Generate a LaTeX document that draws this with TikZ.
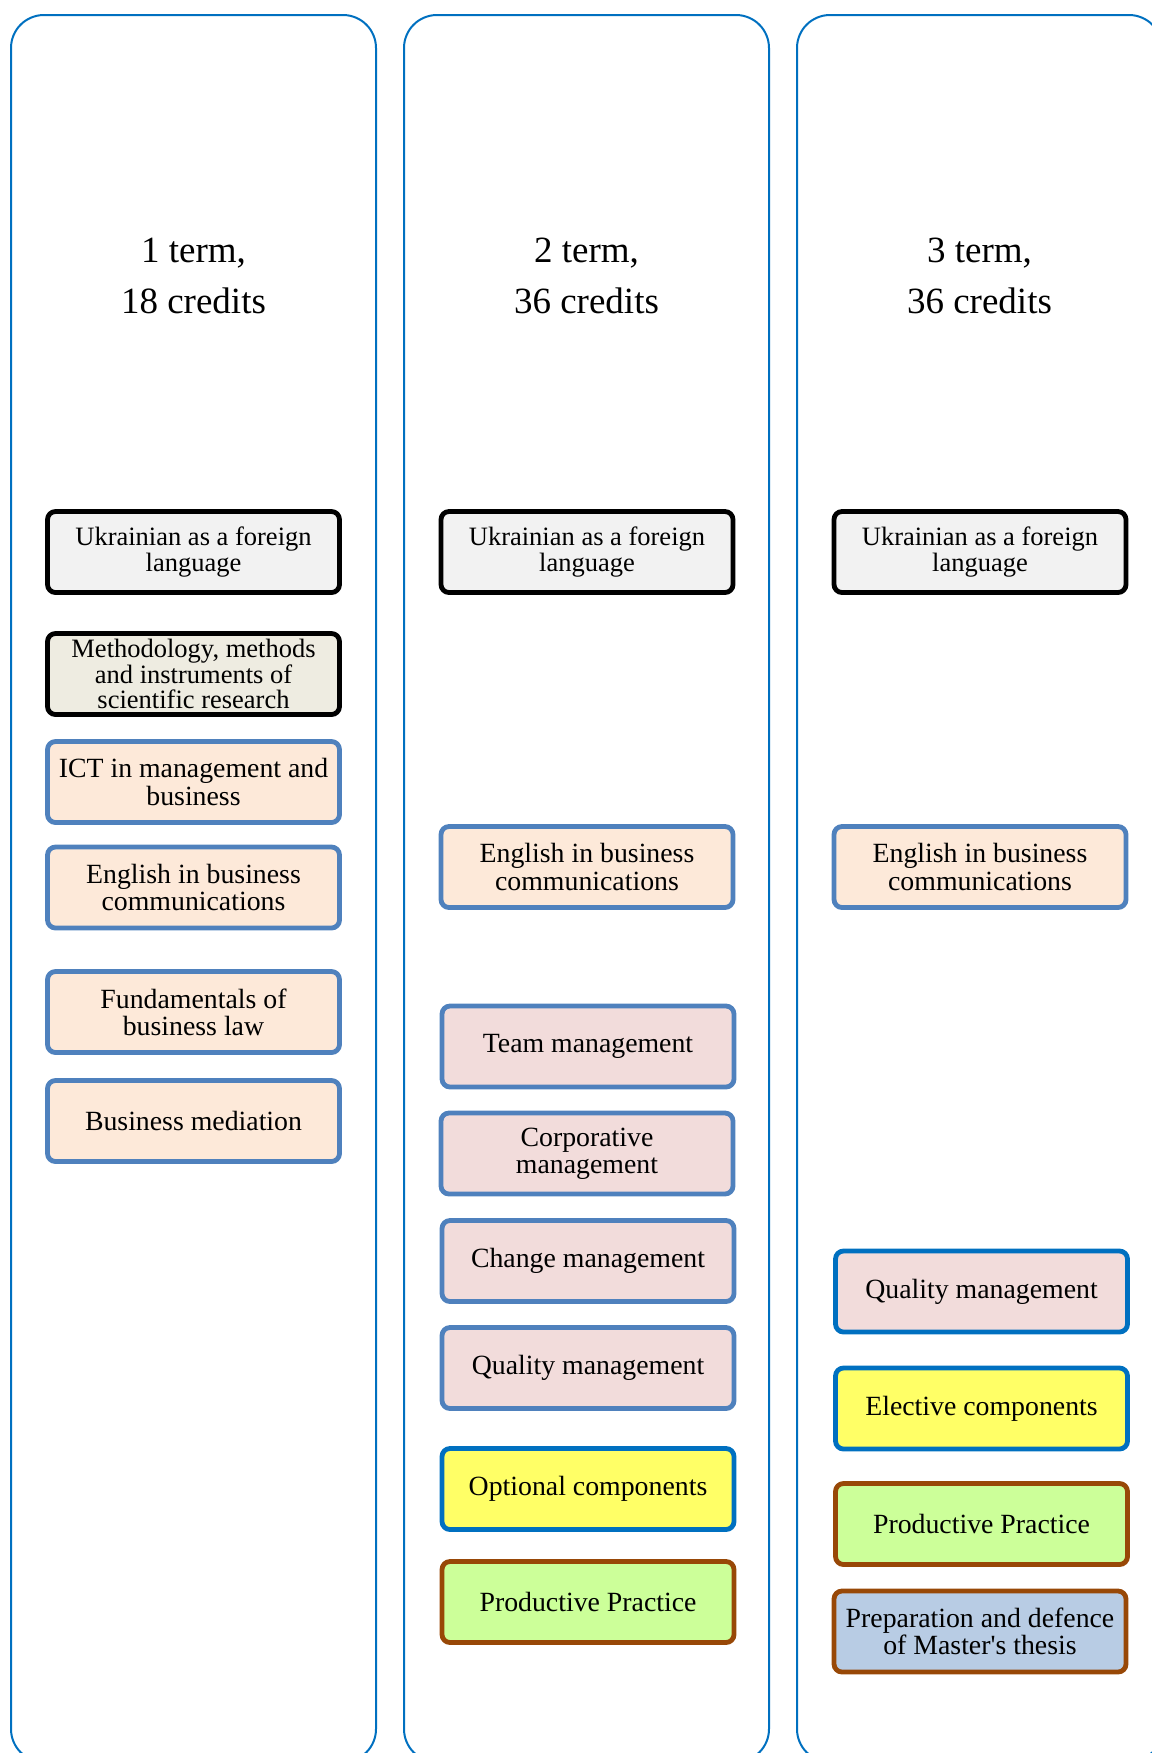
\documentclass[tikz,border=0pt]{standalone}
\usepackage{fontspec}
\setmainfont{Liberation Serif}
\newfontfamily\plainserif{Liberation Serif}
\definecolor{colblue}{HTML}{0070C0}
\definecolor{steel}{HTML}{4F81BD}
\definecolor{brownb}{HTML}{984807}
\definecolor{greyf}{HTML}{F2F2F2}
\definecolor{beigef}{HTML}{EEECE1}
\definecolor{peachf}{HTML}{FDE9D9}
\definecolor{pinkf}{HTML}{F2DCDB}
\definecolor{yellowf}{HTML}{FFFF66}
\definecolor{greenf}{HTML}{CCFF99}
\definecolor{bluef}{HTML}{B8CCE4}
\tikzset{
  column/.style={draw=colblue, line width=1pt, rounded corners=16.5pt},
  coursebox/.style={rounded corners=4pt, line width=2.4pt, minimum width=146pt, minimum height=40.5pt,
    inner sep=0pt, align=center, font=\fontsize{13.9}{13.6}\selectfont},
  blackbox/.style={coursebox, draw=black, font=\fontsize{13.25}{12.6}\selectfont},
  steelbox/.style={coursebox, draw=steel},
  bluebox/.style={coursebox, draw=colblue},
  brownbox/.style={coursebox, draw=brownb},
  title/.style={align=center, font=\fontsize{18.5}{25.5}\selectfont}
}
\begin{document}
\begin{tikzpicture}[x=0.5pt, y=-0.5pt]
\useasboundingbox (0,0) rectangle (1152,1753);
\clip (0,0) rectangle (1152,1753);
% columns
\draw[column] (11,15) rectangle (376,1762);
\draw[column] (404,15) rectangle (769,1762);
\draw[column] (797,15) rectangle (1162,1762);
% titles
\node[title] (t1) at (193.5,276) {1 term,\\18 credits};
\node[title] (t2) at (586.5,276) {2 term,\\36 credits};
\node[title] (t3) at (979.5,276) {3 term,\\36 credits};
% column 1
\node[blackbox, fill=greyf] (u1) at (193.5,552) {Ukrainian as a foreign\\language};
\node[blackbox, fill=beigef] (m1) at (193.5,674) {Methodology, methods\\and instruments of\\scientific research};
\node[steelbox, fill=peachf] (ict) at (193.5,782) {ICT in management and\\business};
\node[steelbox, fill=peachf] (en1) at (193.5,887.5) {English in business\\communications};
\node[steelbox, fill=peachf] (fund) at (193.5,1012) {Fundamentals of\\business law};
\node[steelbox, fill=peachf] (bm) at (193.5,1121) {Business mediation};
% column 2
\node[blackbox, fill=greyf] (u2) at (587,552) {Ukrainian as a foreign\\language};
\node[steelbox, fill=peachf] (en2) at (587,867) {English in business\\communications};
\node[steelbox, fill=pinkf] (team) at (588,1046.5) {Team management};
\node[steelbox, fill=pinkf] (corp) at (587,1153.5) {Corporative\\management};
\node[steelbox, fill=pinkf] (chg) at (588,1261) {Change management};
\node[steelbox, fill=pinkf] (q2) at (588,1368) {Quality management};
\node[bluebox, fill=yellowf] (opt) at (588,1489) {Optional components};
\node[brownbox, fill=greenf] (p2) at (588,1602) {Productive Practice};
% column 3
\node[blackbox, fill=greyf] (u3) at (980,552) {Ukrainian as a foreign\\language};
\node[steelbox, fill=peachf] (en3) at (980,867) {English in business\\communications};
\node[bluebox, fill=pinkf] (q3) at (981.5,1291.5) {Quality management};
\node[bluebox, fill=yellowf] (el) at (981.5,1408.5) {Elective components};
\node[brownbox, fill=greenf] (p3) at (981.5,1524) {Productive Practice};
\node[brownbox, fill=bluef] (prep) at (980,1631.5) {Preparation and defence\\of Master{\plainserif'}s thesis};
\end{tikzpicture}
\end{document}
